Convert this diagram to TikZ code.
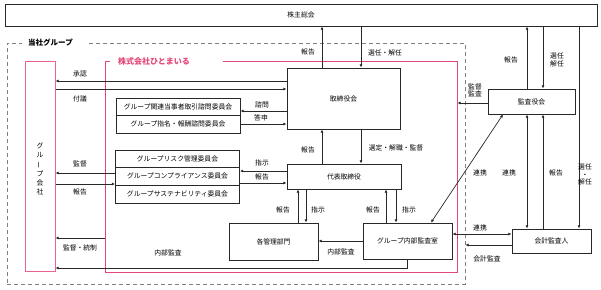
\documentclass[tikz,border=0pt]{standalone}
\usepackage{fontspec}
\setmainfont{Noto Sans CJK JP}
\usepackage{graphicx}
\usetikzlibrary{arrows.meta}
\definecolor{hmpink}{RGB}{228,72,120}
\definecolor{hmpinklt}{RGB}{232,100,140}
\definecolor{hmline}{RGB}{40,40,40}

\begin{document}
\begin{tikzpicture}[x=1pt, y=-1pt, font=\fontsize{6.8}{7.2}\selectfont,
	>={Latex[length=3.2pt, width=3pt]},
	box/.style={draw=hmline, line width=0.9pt, inner sep=0pt},
	pinkbox/.style={draw=hmpink, line width=1pt, inner sep=0pt},
	grpbox/.style={draw=gray, line width=0.8pt, dash pattern=on 4pt off 3pt, inner sep=0pt},
	lbl/.style={inner sep=0.5pt},
	arr/.style={draw=hmline, line width=0.7pt, ->},
	biarr/.style={draw=hmline, line width=0.7pt, <->}]
	\useasboundingbox (0,0) rectangle (601,289);
	
	\node[box, minimum width=592pt, minimum height=22pt] (soukai) at (301,15) {株主総会};
	\node[grpbox, minimum width=458pt, minimum height=241pt] (tousha) at (236,163.5) {};
	\node[lbl, fill=white, anchor=west, inner xsep=6pt, text width=52pt, align=left, font=\fontsize{7.5}{8}\selectfont\bfseries] (toushalbl) at (22,43) {当社グループ};
	\node[pinkbox, minimum width=352pt, minimum height=211pt] (hitomairu) at (281,166.5) {};
	\node[lbl, fill=white, anchor=west, inner xsep=8pt, text width=97pt, align=left, text=hmpink, font=\fontsize{8}{8.5}\selectfont\bfseries] (hitomairulbl) at (110,61) {株式会社ひとまいる};
	\node[pinkbox, draw=hmpinklt, minimum width=30pt, minimum height=210pt] (kaisha) at (40,166) {};
	\node[lbl, align=center, font=\fontsize{6.8}{9.2}\selectfont] (kaishatxt) at (40,169) {グ\\ル\\\rotatebox[origin=c]{90}{ー}\\プ\\会\\社};
	
	\node[box, minimum width=113pt, minimum height=61pt] (torishimari) at (343.5,98.5) {取締役会};
	\node[box, minimum width=124pt, minimum height=17pt] (com1) at (178,106.5) {グループ関連当事者取引諮問委員会};
	\node[box, minimum width=124pt, minimum height=18pt] (com2) at (178,124) {グループ指名・報酬諮問委員会};
	\node[box, minimum width=124pt, minimum height=17pt] (com3) at (177.5,158.5) {グループリスク管理委員会};
	\node[box, minimum width=124pt, minimum height=18pt] (com4) at (177.5,176) {グループコンプライアンス委員会};
	\node[box, minimum width=124pt, minimum height=18pt] (com5) at (177.5,194) {グループサステナビリティ委員会};
	\node[box, minimum width=114pt, minimum height=25pt] (daihyo) at (344,176.5) {代表取締役};
	\node[box, minimum width=89pt, minimum height=37pt] (kanri) at (273.5,241.5) {各管理部門};
	\node[box, minimum width=89pt, minimum height=36pt] (naibu) at (407.5,241) {グループ内部監査室};
	\node[box, minimum width=87pt, minimum height=25pt] (kansayaku) at (531.5,101.5) {監査役会};
	\node[box, minimum width=79pt, minimum height=24pt] (kaikei) at (551.5,241) {会計監査人};
	
	\draw[arr] (322,0 |- torishimari.north) -- (322,0 |- soukai.south);
	\draw[arr] (361,0 |- soukai.south) -- (361,0 |- torishimari.north);
	\draw[arr] (322,0 |- daihyo.north) -- (322,0 |- torishimari.south);
	\draw[arr] (361,0 |- torishimari.south) -- (361,0 |- daihyo.north);
	\draw[arr] (298,0 |- kanri.north) -- (298,0 |- daihyo.south);
	\draw[arr] (306,0 |- daihyo.south) -- (306,0 |- kanri.north);
	\draw[arr] (386,0 |- naibu.north) -- (386,0 |- daihyo.south);
	\draw[arr] (396,0 |- daihyo.south) -- (396,0 |- naibu.north);
	\draw[arr] (torishimari.west |- 0,111) -- (com1.east |- 0,111);
	\draw[arr] (com2.east |- 0,124) -- (torishimari.west |- 0,124);
	\draw[arr] (daihyo.west |- 0,171) -- (com4.east |- 0,171);
	\draw[arr] (com4.east |- 0,183) -- (daihyo.west |- 0,183);
	\draw[arr] (torishimari.west |- 0,81) -- (kaisha.east |- 0,81);
	\draw[arr] (kaisha.east |- 0,89) -- (torishimari.west |- 0,89);
	\draw[arr] (com4.west |- 0,173) -- (kaisha.east |- 0,173);
	\draw[arr] (kaisha.east |- 0,184) -- (com4.west |- 0,184);
	\draw[arr] (hitomairu.west |- 0,238) -- (kaisha.east |- 0,238);
	\draw[arr] (naibu.south) |- (kaisha.east |- 0,268);
	\draw[arr] (naibu.west) -- (kanri.east |- naibu.west);
	\draw[arr] (kansayaku.west |- 0,103) -- (hitomairu.east |- 0,103);
	\draw[arr] (527,0 |- kansayaku.north) -- (527,0 |- soukai.south);
	\draw[arr] (543,0 |- soukai.south) -- (543,0 |- kansayaku.north);
	\draw[arr] (579,0 |- soukai.south) -- (579,0 |- kaikei.north);
	\draw[biarr] (527,0 |- kansayaku.south) -- (527,0 |- kaikei.north);
	\draw[arr] (543,0 |- kaikei.north) -- (543,0 |- kansayaku.south);
	\draw[biarr] (503,0 |- kansayaku.south) -- (431,0 |- naibu.north);
	\draw[biarr] (naibu.east |- 0,234) -- (kaikei.west |- 0,234);
	\draw[arr] (kaikei.west |- 0,245) -- (tousha.east |- 0,245);
	
	\node[lbl] (shonin) at (80,74) {承認};
	\node[lbl] (fugi) at (80,99) {付議};
	\node[lbl] (shimon) at (262,105) {諮問};
	\node[lbl] (toshin) at (261,118) {答申};
	\node[lbl] (hk1) at (308,52) {報告};
	\node[lbl] (sennin1) at (385,53) {選任・解任};
	\node[lbl] (hk2) at (308,150) {報告};
	\node[lbl] (sentei) at (396,148) {選定・解職・監督};
	\node[lbl] (shiji1) at (262,163) {指示};
	\node[lbl] (hk3) at (262,177) {報告};
	\node[lbl] (kantoku1) at (80,164) {監督};
	\node[lbl] (hk4) at (80,192) {報告};
	\node[lbl] (tousei) at (80,248) {監督・統制};
	\node[lbl] (naibu1) at (168,253) {内部監査};
	\node[lbl] (hk5) at (283,210) {報告};
	\node[lbl] (shiji2) at (318,210) {指示};
	\node[lbl] (hk6) at (373,210) {報告};
	\node[lbl] (shiji3) at (409,210) {指示};
	\node[lbl] (naibu2) at (341,252) {内部監査};
	\node[lbl, align=center] (kansa) at (475,90.5) {監督\\監査};
	\node[lbl] (hk7) at (511,60) {報告};
	\node[lbl, align=center] (sennin2) at (557,60) {選任\\解任};
	\node[lbl] (renkei1) at (480,173) {連携};
	\node[lbl] (renkei2) at (509,173) {連携};
	\node[lbl] (hk8) at (556,173) {報告};
	\node[lbl, align=center] (sennin3) at (585,174.5) {選任\\・\\解任};
	\node[lbl] (renkei3) at (480,228) {連携};
	\node[lbl] (kaikeikansa) at (487,259) {会計監査};
\end{tikzpicture}
\end{document}
